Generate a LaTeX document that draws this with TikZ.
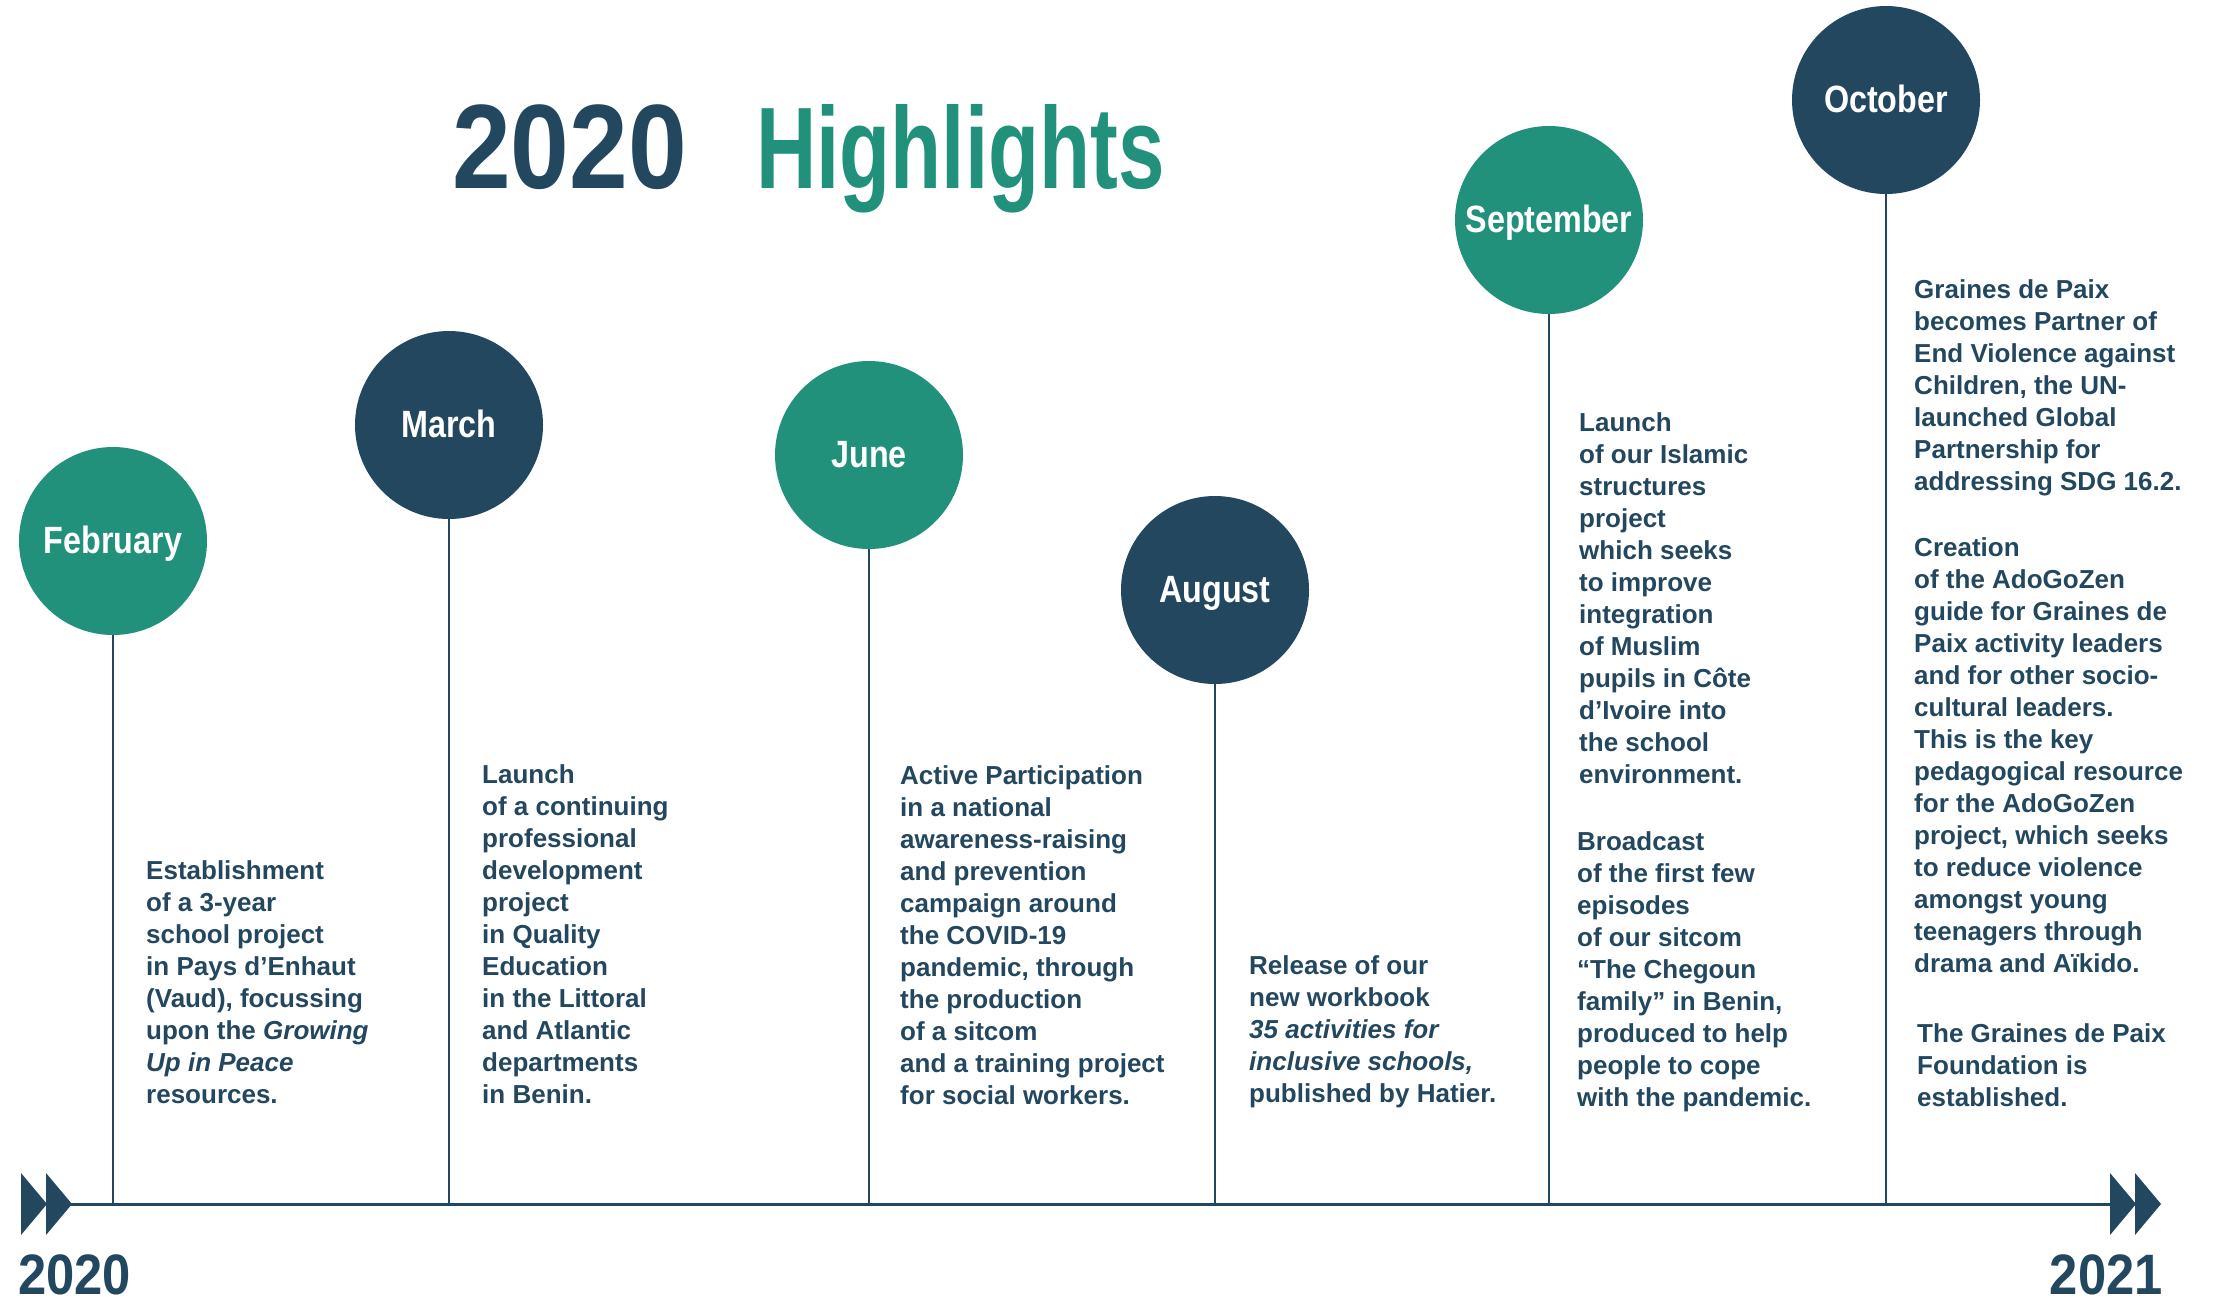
\documentclass[tikz,border=0pt]{standalone}
\usepackage{fontspec}
\setmainfont{Liberation Sans}
\newfontfamily\condfont[FakeStretch=0.85]{Liberation Sans}
\newfontfamily\titlefontA[FakeStretch=0.88]{Liberation Sans}
\newfontfamily\titlefontB[FakeStretch=0.72]{Liberation Sans}
\newfontfamily\yearfont[FakeStretch=0.89]{Liberation Sans}
\definecolor{gpnavy}{HTML}{22475E}
\definecolor{gpgreen}{HTML}{22917C}
\newcommand\blk[1]{\parbox[b]{420pt}{\fontsize{26}{32}\selectfont\bfseries\raggedright #1}}
\tikzset{
  month/.style={circle, minimum size=188pt, inner sep=0pt, text=white,
    font=\condfont\bfseries\fontsize{38}{38}\selectfont, text height=26pt, text depth=2pt},
  stem/.style={draw=gpnavy, line width=2.5pt},
  tline/.style={draw=gpnavy, line width=3pt},
  body/.style={anchor=base west, inner sep=0pt, text=gpnavy},
  arrowtri/.style={fill=gpnavy, draw=none},
  yearlbl/.style={inner sep=0pt, text=gpnavy, text depth=0pt, text height=41pt, font=\yearfont\bfseries\fontsize{57}{60}\selectfont},
}
\begin{document}
\begin{tikzpicture}[x=1pt, y=-1pt]
\useasboundingbox (0,0) rectangle (2215,1301);
% title
\node[anchor=base west, inner sep=0pt, text=gpnavy, font=\titlefontA\bfseries\fontsize{120}{120}\selectfont] (ttlyear) at (452,188) {2020};
\node[anchor=base west, inner sep=0pt, text=gpgreen, font=\titlefontB\bfseries\fontsize{116}{116}\selectfont] (ttlhl) at (756,188) {Highlights};
% timeline
\coordinate (tlL) at (71,1204);
\coordinate (tlR) at (2110,1204);
\draw[tline] (tlL) -- (tlR);
\fill[arrowtri] (21,1173) -- (47,1204) -- (21,1235) -- cycle;
\fill[arrowtri] (46,1173) -- (72,1204) -- (46,1235) -- cycle;
\fill[arrowtri] (2110,1173) -- (2136,1204) -- (2110,1235) -- cycle;
\fill[arrowtri] (2135,1173) -- (2161,1204) -- (2135,1235) -- cycle;
\node[yearlbl, anchor=base west] (y2020) at (18,1294) {2020};
\node[yearlbl, anchor=base east] (y2021) at (2163,1294) {2021};
% months
\node[month, fill=gpgreen] (feb) at (113,541) {February};
\node[month, fill=gpnavy] (mar) at (449,425) {March};
\node[month, fill=gpgreen] (jun) at (869,455) {June};
\node[month, fill=gpnavy] (aug) at (1215,590) {August};
\node[month, fill=gpgreen] (sep) at (1549,220) {September};
\node[month, fill=gpnavy] (oct) at (1886,100) {October};
\foreach \m in {feb,mar,jun,aug,sep,oct}{
  \coordinate (\m B) at (\m.south |- tlL);
  \draw[stem] (\m.south) -- (\m B);
}
% texts
\node[body] (tfeb) at (146,1103) {\blk{Establishment\\ of a 3-year\\ school project\\ in Pays d’Enhaut\\ (Vaud), focussing\\ upon the \textit{Growing}\\ \textit{Up in Peace}\\ resources.}};
\node[body] (tmar) at (482,1103) {\blk{Launch\\ of a continuing\\ professional\\ development\\ project\\ in Quality\\ Education\\ in the Littoral\\ and Atlantic\\ departments\\ in Benin.}};
\node[body] (tjun) at (900,1104) {\blk{Active Participation\\ in a national\\ awareness-raising\\ and prevention\\ campaign around\\ the COVID-19\\ pandemic, through\\ the production\\ of a sitcom\\ and a training project\\ for social workers.}};
\node[body] (taug) at (1249,1102) {\blk{Release of our\\ new workbook\\ \textit{35 activities for}\\ \textit{inclusive schools,}\\ published by Hatier.}};
\node[body] (tsepa) at (1579,783) {\blk{Launch\\ of our Islamic\\ structures\\ project\\ which seeks\\ to improve\\ integration\\ of Muslim\\ pupils in Côte\\ d’Ivoire into\\ the school\\ environment.}};
\node[body] (tsepb) at (1577,1106) {\blk{Broadcast\\ of the first few\\ episodes\\ of our sitcom\\ “The Chegoun\\ family” in Benin,\\ produced to help\\ people to cope\\ with the pandemic.}};
\node[body] (tocta) at (1914,490) {\blk{Graines de Paix\\ becomes Partner of\\ End Violence against\\ Children, the UN-\\ launched Global\\ Partnership for\\ addressing SDG 16.2.}};
\node[body] (toctb) at (1914,972) {\blk{Creation\\ of the AdoGoZen\\ guide for Graines de\\ Paix activity leaders\\ and for other socio-\\ cultural leaders.\\ This is the key\\ pedagogical resource\\ for the AdoGoZen\\ project, which seeks\\ to reduce violence\\ amongst young\\ teenagers through\\ drama and Aïkido.}};
\node[body] (toctc) at (1917,1106) {\blk{The Graines de Paix\\ Foundation is\\ established.}};
\end{tikzpicture}
\end{document}
